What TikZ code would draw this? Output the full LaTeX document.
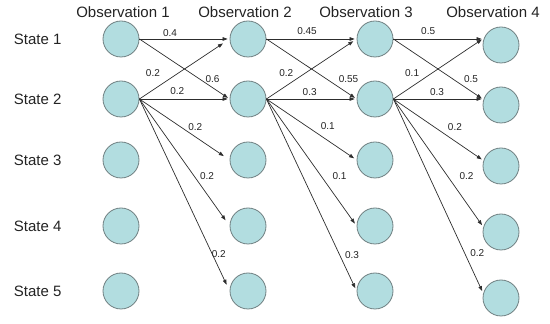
\documentclass[tikz,border=0pt]{standalone}
\usepackage{fontspec}
\setmainfont{Liberation Sans}
\usetikzlibrary{arrows.meta,positioning}
\definecolor{cellblue}{RGB}{178,221,224}
\definecolor{rimgray}{RGB}{112,128,130}
\definecolor{linegray}{RGB}{45,45,45}
\definecolor{textgray}{RGB}{35,35,35}

\begin{document}
\begin{tikzpicture}[
  x=1pt, y=1pt,
  >={Triangle[length=5pt,width=3.6pt]},
  line cap=round,
  line join=round,
  hstate/.style={circle, minimum size=36pt, inner sep=0pt, fill=cellblue, draw=rimgray, line width=0.8pt},
  head/.style={font=\fontsize{15}{18}\selectfont, inner sep=0pt, text=textgray},
  prob/.style={font=\fontsize{10}{12}\selectfont, inner sep=0pt, text=textgray},
  tr/.style={->, line width=0.7pt, draw=linegray}
]
  \useasboundingbox (0,0) rectangle (550,324);

  % The hidden states, one column per observation
  \foreach \c/\x in {1/121,2/248,3/375}{
    \foreach \r/\y in {1/285,2/225,3/164,4/98,5/33}{
      \node[hstate] (o\c\r) at (\x,\y) {};
    }
  }
  \foreach \r/\y in {1/279,2/219,3/158,4/92,5/26}{\node[hstate] (o4\r) at (501,\y) {};}

  % Headings
  \foreach \c/\x in {1/123,2/245,3/366,4/493}{\node[head] (obs\c) at (\x,312) {Observation \c};}
  \foreach \r in {1,...,5}{\node[head, left=41pt of o1\r] (st\r) {State \r};}

  % Observation 1 -> Observation 2
  \draw[tr, shorten >=2pt] (o11.east) -- (o21.west) node[prob, pos=0.34, yshift=6pt] {0.4};
  \draw[tr, shorten >=2pt] (o11.east) -- (o22.west) node[prob, pos=0.81, yshift=9pt] {0.6};
  \draw[tr, shorten >=8pt] (o12.east) -- (o21.west) node[prob, pos=0.15, yshift=17pt] {0.2};
  \draw[tr, shorten >=2pt] (o12.east) -- (o22.west) node[prob, pos=0.42, yshift=8pt] {0.2};
  \draw[tr, shorten >=7pt] (o12.east) -- (o23.west) node[prob, pos=0.62, yshift=10pt] {0.2};
  \draw[tr, shorten >=7pt] (o12.east) -- (o24.west) node[prob, pos=0.75, yshift=18pt] {0.2};
  \draw[tr, shorten >=7pt] (o12.east) -- (o25.west) node[prob, pos=0.88, yshift=14pt] {0.2};

  % Observation 2 -> Observation 3
  \draw[tr, shorten >=2pt] (o21.east) -- (o31.west) node[prob, pos=0.45, yshift=8pt] {0.45};
  \draw[tr, shorten >=2pt] (o21.east) -- (o32.west) node[prob, pos=0.91, yshift=15pt] {0.55};
  \draw[tr, shorten >=4pt] (o22.east) -- (o31.west) node[prob, pos=0.22, yshift=13pt] {0.2};
  \draw[tr, shorten >=2pt] (o22.east) -- (o32.west) node[prob, pos=0.48, yshift=7pt] {0.3};
  \draw[tr, shorten >=3pt] (o22.east) -- (o33.west) node[prob, pos=0.68, yshift=14pt] {0.1};
  \draw[tr, shorten >=3pt] (o22.east) -- (o34.west) node[prob, pos=0.81, yshift=26pt] {0.1};
  \draw[tr, shorten >=3pt] (o22.east) -- (o35.west) node[prob, pos=0.95, yshift=26pt] {0.3};

  % Observation 3 -> Observation 4
  \draw[tr, shorten >=1pt] (o31.east) -- ([yshift=6pt]o41.west) node[prob, pos=0.39, yshift=8pt] {0.5};
  \draw[tr, shorten >=1pt] (o31.east) -- ([yshift=6pt]o42.west) node[prob, pos=0.87, yshift=12pt] {0.5};
  \draw[tr, shorten >=1pt] (o32.east) -- ([yshift=6pt]o41.west) node[prob, pos=0.21, yshift=13pt] {0.1};
  \draw[tr, shorten >=1pt] (o32.east) -- ([yshift=6pt]o42.west) node[prob, pos=0.49, yshift=7pt] {0.3};
  \draw[tr, shorten >=1pt] (o32.east) -- ([yshift=6pt]o43.west) node[prob, pos=0.69, yshift=14pt] {0.2};
  \draw[tr, shorten >=1pt] (o32.east) -- ([yshift=6pt]o44.west) node[prob, pos=0.82, yshift=27pt] {0.2};
  \draw[tr, shorten >=1pt] (o32.east) -- ([yshift=6pt]o45.west) node[prob, pos=0.94, yshift=27pt] {0.2};
\end{tikzpicture}
\end{document}
